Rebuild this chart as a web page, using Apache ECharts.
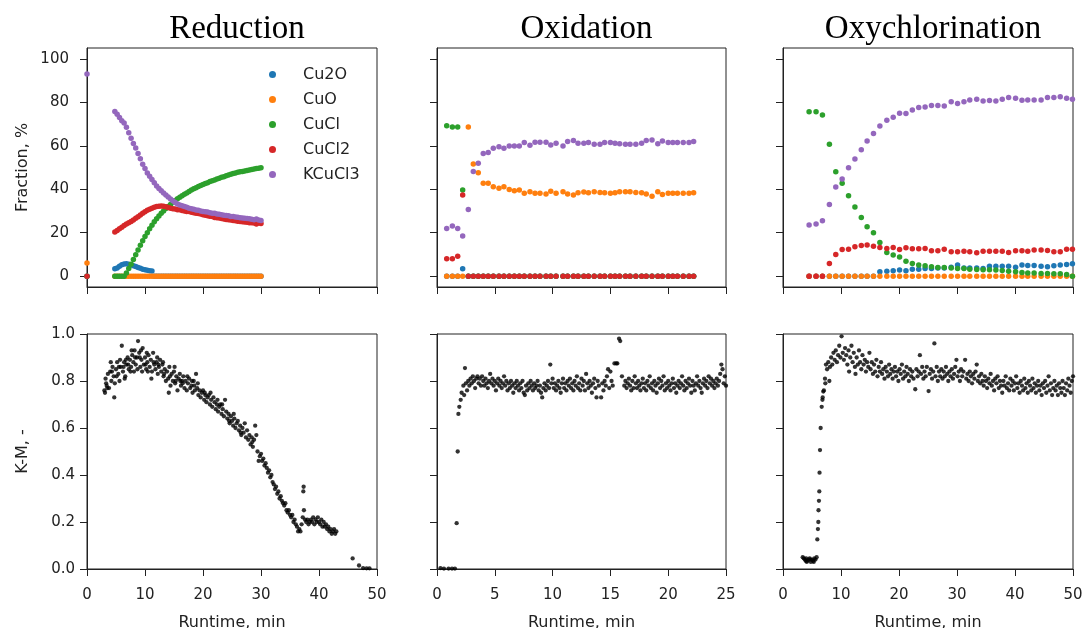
<!DOCTYPE html>
<html><head><meta charset="utf-8">
<script src="https://cdn.jsdelivr.net/npm/echarts@6/dist/echarts.min.js"></script>
<style>html,body{margin:0;padding:0;background:#fff}#c{width:1087px;height:628px}</style>
</head><body><div id="c"></div>
<script>
// ---------- Data ----------
const phases = ['Reduction', 'Oxidation', 'Oxychlorination'];
const species = ['Cu2O', 'CuO', 'CuCl', 'CuCl2', 'KCuCl3'];
const fracTicks = [0, 20, 40, 60, 80, 100];

// Reduction (runtime, min) and fractions (%)
const redT = [0, 4.8,5.2,5.6,6.0,6.4,6.8,7.2,7.6,8.0,8.4,8.8,9.2,9.6,10.0,10.4,10.8,11.2,11.6,12.0,12.4,12.8,13.2,13.6,14.0,14.4,14.8,15.2,15.6,16.0,16.4,16.8,17.2,17.6,18.0,18.4,18.8,19.2,19.6,20.0,20.4,20.8,21.2,21.6,22.0,22.4,22.8,23.2,23.6,24.0,24.4,24.8,25.2,25.6,26.0,26.4,26.8,27.2,27.6,28.0,28.4,28.8,29.2,29.6,30.0];
const redCu2O = [0, 3.4,3.8,4.5,5.2,5.6,5.7,5.5,5.2,4.8,4.4,4.0,3.6,3.2,2.9,2.7,2.5,2.4, 0,0,0,0,0,0,0,0,0,0,0,0,0,0,0,0,0,0,0,0,0,0,0,0,0,0,0,0,0,0,0,0,0,0,0,0,0,0,0,0,0,0,0,0,0,0,0,0,0];
const redCuO = [6, 0,0,0,0,0,0,0,0,0,0,0,0,0,0,0,0,0,0,0,0,0,0,0,0,0,0,0,0,0,0,0,0,0,0,0,0,0,0,0,0,0,0,0,0,0,0,0,0,0,0,0,0,0,0,0,0,0,0,0,0,0,0,0,0];
const redCuCl = [0, 0,0,0,0,0,1.5,3.5,5.5,7.6,9.8,12,14.2,16.3,18.2,20.0,21.8,23.4,25.0,26.4,27.7,28.9,30.0,31.1,32.1,33.0,33.9,34.8,35.6,36.3,37.0,37.7,38.3,39.0,39.6,40.2,40.7,41.2,41.7,42.2,42.6,43.0,43.5,43.9,44.3,44.7,45.1,45.5,45.8,46.2,46.5,46.9,47.2,47.5,47.8,48.0,48.2,48.4,48.6,48.9,49.1,49.3,49.5,49.7,49.9];
const redCuCl2 = [0, 20.3,21,21.8,22.5,23.3,24,24.6,25.2,25.8,26.6,27.3,28.1,28.9,29.6,30.3,30.8,31.3,31.7,32.0,32.2,32.3,32.2,31.9,31.6,31.2,31.0,30.9,30.6,30.5,30.2,30.0,29.8,29.7,29.4,29.2,29.0,28.8,28.6,28.3,28.0,27.8,27.6,27.4,27.0,26.9,26.7,26.5,26.3,26.1,26.0,25.8,25.6,25.5,25.3,25.2,25.0,24.9,24.8,24.6,24.6,24.4,24.0,24.4,24.2];
const redKCuCl3 = [93, 75.8,74.5,73,71.5,70.5,68.5,66,63.5,61,59,56.5,54,51.5,49.5,47.5,46,44.5,43,41.5,40.3,39.3,38.3,37.3,36.4,35.5,34.7,33.9,33.2,32.7,32.4,32.0,31.7,31.3,31.0,30.8,30.4,30.3,30.0,29.8,29.6,29.5,29.2,29.0,29.0,28.6,28.5,28.3,28.0,27.9,27.8,27.5,27.4,27.2,27.1,26.9,26.8,26.6,26.5,26.4,26.2,26.0,26.3,25.8,25.6];

// Oxidation
const oxT = [0.84,1.33,1.79,2.22,2.71,3.14,3.57,4.0,4.43,4.87,5.36,5.79,6.25,6.69,7.12,7.55,8.04,8.48,8.91,9.43,9.84,10.3,10.9,11.3,11.8,12.2,12.7,13.1,13.6,14.1,14.5,15.0,15.4,15.8,16.3,16.7,17.2,17.7,18.1,18.6,19.1,19.5,20.0,20.4,20.8,21.3,21.8,22.2];
const oxCu2O = [0,0,0,3.4, 0,0,0,0,0,0,0,0,0,0,0,0,0,0,0,0,0,0,0,0,0,0,0,0,0,0,0,0,0,0,0,0,0,0,0,0,0,0,0,0,0,0,0,0];
const oxCuO = [0,0,0,0,68.6,51.6,47.6,42.7,42.7,41.1,40.4,41.1,39.9,39.3,39.6,38.1,38.8,38.1,38.1,37.8,39.1,38.1,38.8,37.8,37.3,38.4,38.7,38.4,38.8,38.5,38.4,38.1,38.4,38.8,38.8,38.8,38.5,38.4,37.8,36.8,38.8,37.6,38.1,38.1,38.1,38.1,38.1,38.4];
const oxCuCl = [69.2,68.6,68.6,39.6, 0,0,0,0,0,0,0,0,0,0,0,0,0,0,0,0,0,0,0,0,0,0,0,0,0,0,0,0,0,0,0,0,0,0,0,0,0,0,0,0,0,0,0,0];
const oxCuCl2 = [8.0,8.0,9.1,37.3, 0,0,0,0,0,0,0,0,0,0,0,0,0,0,0,0,0,0,0,0,0,0,0,0,0,0,0,0,0,0,0,0,0,0,0,0,0,0,0,0,0,0,0,0];
const oxKCuCl3 = [21.9,23.1,21.9,18.5,30.7,48.2,51.9,56.5,56.9,58.9,59.6,58.9,59.9,59.9,59.9,61.5,60.2,61.6,61.6,61.6,60.4,61.2,59.9,62.0,62.4,61.2,61.2,61.5,60.7,60.7,61.5,61.5,61.2,60.9,60.7,60.7,60.7,61.2,62.4,62.7,60.9,62.2,61.5,61.5,61.5,61.5,61.5,62.0];

// Oxychlorination
const ocT = [4.5,5.7,6.8,8.0,9.1,10.2,11.3,12.4,13.5,14.5,15.6,16.7,17.9,19.0,20.1,21.2,22.3,23.4,24.5,25.6,26.7,27.8,29.0,30.1,31.2,32.2,33.4,34.5,35.6,36.7,37.8,38.9,40.1,41.2,42.2,43.3,44.5,45.6,46.7,47.8,48.9,49.9];
const ocCu2O = [0,0,0,0,0,0,0,0,0,0,0, 2.0,2.3,2.5,2.8,2.5,3.2,3.2,3.5,3.5,3.8,3.8,4.1,5.1,3.8,3.8,3.8,3.5,4.5,4.6,4.6,4.6,4.1,5.1,4.9,4.9,4.6,4.3,4.8,5.1,5.4,5.7];
const ocCuO = [0,0,0,0,0,0,0,0,0,0,0,0,0,0,0,0,0,0,0,0,0,0,0,0,0,0,0,0,0,0,0,0,0,0,0,0,0,0,0,0,0,0];
const ocCuCl = [75.7,75.7,74.2,60.7,48.1,42.7,37.0,31.8,27.0,22.7,20.0,15.5,10.9,9.7,8.8,6.9,5.8,5.1,4.8,4.3,4.0,4.0,3.7,3.5,3.5,3.2,3.1,2.9,2.9,2.8,2.6,2.3,2.0,1.7,1.5,1.5,1.2,1.2,1.1,1.1,0.8,0];
const ocCuCl2 = [0,0,0,5.8,10.0,12.3,12.4,13.5,14.1,14.3,13.8,13.2,12.7,13.2,12.3,13.1,12.6,12.6,12.7,11.7,11.7,12.4,11.2,11.2,11.4,11.2,10.8,11.5,11.5,11.4,11.5,10.9,11.7,11.7,11.5,12.0,12.0,11.8,11.2,11.2,12.4,12.4];
const ocKCuCl3 = [23.5,24.0,25.5,33.0,41.0,44.7,49.9,53.9,58.2,62.2,65.7,69.1,71.7,73.1,75.0,74.8,76.5,77.6,77.9,78.5,78.5,78.3,80.3,79.4,80.3,81.1,81.4,80.6,80.8,80.6,81.4,82.2,81.9,81.0,81.1,81.1,81.1,82.2,82.2,82.6,81.9,81.4];

// K-M signal [runtime, value]
const kmRed = [[3.0,.76],[3.2,.81],[3.4,.78],[3.6,.83],[3.8,.77],[3.1,.75],[3.3,.79],[3.5,.77],[4.0,.84],[4.2,.80],[4.4,.86],[4.6,.82],[4.8,.79],[4.3,.84],[4.7,.73],[4.1,.88],[5.0,.85],[5.2,.88],[5.4,.83],[5.6,.80],[5.8,.86],[5.1,.82],[5.5,.86],[5.7,.89],[6.0,.95],[6.2,.84],[6.4,.88],[6.6,.82],[6.8,.87],[6.3,.86],[6.7,.89],[6.5,.81],[7.0,.90],[7.2,.85],[7.4,.89],[7.6,.86],[7.8,.91],[7.1,.87],[7.5,.84],[7.7,.93],[8.0,.88],[8.2,.93],[8.4,.87],[8.6,.90],[8.8,.97],[8.3,.90],[8.7,.85],[8.1,.84],[9.0,.92],[9.2,.86],[9.4,.89],[9.6,.94],[9.8,.87],[9.1,.90],[9.5,.84],[9.3,.93],[10.0,.90],[10.2,.85],[10.4,.88],[10.6,.91],[10.8,.86],[10.1,.87],[10.5,.84],[10.3,.92],[11.0,.89],[11.2,.84],[11.4,.92],[11.6,.87],[11.8,.85],[11.1,.81],[11.5,.88],[12.0,.88],[12.2,.83],[12.4,.86],[12.6,.89],[12.8,.84],[12.3,.87],[12.1,.90],[13.0,.87],[13.2,.82],[13.4,.85],[13.6,.80],[13.8,.84],[13.3,.83],[13.1,.88],[14.0,.81],[14.2,.86],[14.4,.78],[14.6,.83],[14.8,.80],[14.3,.82],[14.1,.75],[15.0,.84],[15.2,.79],[15.4,.82],[15.6,.76],[15.8,.81],[15.3,.80],[15.1,.86],[16.0,.83],[16.2,.78],[16.4,.80],[16.6,.82],[16.8,.77],[16.5,.79],[16.1,.80],[17.0,.80],[17.2,.76],[17.4,.79],[17.6,.81],[17.8,.77],[17.3,.82],[18.0,.78],[18.2,.75],[18.4,.80],[18.6,.76],[18.8,.83],[18.5,.78],[18.1,.80],[19.0,.77],[19.2,.74],[19.4,.76],[19.6,.73],[19.8,.75],[19.1,.79],[20.0,.76],[20.2,.72],[20.4,.74],[20.6,.71],[20.8,.73],[20.3,.75],[21.0,.74],[21.2,.70],[21.4,.72],[21.6,.69],[21.8,.73],[21.3,.75],[22.0,.71],[22.2,.68],[22.4,.70],[22.6,.67],[22.8,.69],[22.5,.72],[23.0,.70],[23.2,.66],[23.4,.68],[23.6,.65],[23.8,.72],[23.3,.70],[24.0,.67],[24.2,.64],[24.4,.66],[24.6,.62],[24.8,.65],[24.5,.63],[25.0,.63],[25.2,.61],[25.4,.64],[25.6,.60],[25.8,.62],[25.3,.66],[26.0,.63],[26.2,.59],[26.4,.61],[26.6,.57],[26.8,.60],[26.5,.58],[27.0,.58],[27.2,.62],[27.4,.56],[27.6,.59],[27.8,.55],[28.0,.57],[28.2,.53],[28.4,.56],[28.6,.52],[28.8,.55],[28.5,.54],[29.0,.61],[29.2,.57],[29.4,.50],[29.6,.46],[29.8,.48],[30.0,.49],[30.2,.46],[30.4,.47],[30.6,.44],[30.8,.45],[31.0,.43],[31.2,.41],[31.4,.42],[31.6,.39],[31.8,.40],[32.0,.37],[32.2,.36],[32.4,.34],[32.6,.35],[32.8,.32],[33.0,.33],[33.2,.30],[33.4,.31],[33.6,.29],[33.8,.28],[34.0,.27],[34.2,.28],[34.4,.25],[34.6,.24],[34.8,.25],[35.0,.23],[35.2,.22],[35.4,.23],[35.6,.20],[35.8,.21],[36.0,.19],[36.2,.18],[36.4,.16],[36.6,.17],[36.8,.16],[37.0,.19],[37.2,.22],[37.3,.33],[37.35,.35],[37.4,.25],[37.6,.21],[37.8,.20],[38.0,.21],[38.2,.19],[38.4,.20],[38.6,.21],[38.8,.20],[39.0,.22],[39.2,.19],[39.4,.21],[39.6,.20],[39.8,.22],[40.0,.20],[40.2,.19],[40.4,.21],[40.6,.18],[40.8,.20],[41.0,.18],[41.2,.19],[41.4,.17],[41.6,.18],[41.8,.16],[42.0,.17],[42.2,.15],[42.4,.16],[42.6,.17],[42.8,.15],[43.0,.16],[45.8,.045],[46.9,.015],[47.6,.004],[48.2,.003],[48.7,.003]];
const kmOx = [[0.3,.004],[0.6,.002],[1.0,.002],[1.3,.002],[1.55,.002],[1.7,.195],[1.79,.50],[1.85,.66],[1.93,.69],[2.05,.72],[2.13,.75],[2.28,.78],[2.35,.74],[2.42,.855],[2.5,.79],[2.6,.76],[2.7,.80],[2.8,.78],[2.9,.81],[3.0,.79],[3.1,.82],[3.2,.80],[3.3,.77],[3.4,.81],[3.5,.82],[3.6,.79],[3.7,.81],[3.8,.78],[3.9,.82],[4.0,.80],[4.1,.78],[4.2,.81],[4.3,.79],[4.4,.77],[4.5,.80],[4.6,.83],[4.7,.79],[4.8,.81],[4.9,.78],[5.0,.80],[5.1,.76],[5.2,.79],[5.3,.81],[5.4,.78],[5.5,.80],[5.6,.77],[5.7,.79],[5.8,.82],[5.9,.78],[6.0,.80],[6.1,.76],[6.2,.79],[6.3,.77],[6.4,.80],[6.5,.78],[6.6,.75],[6.7,.79],[6.8,.77],[6.9,.80],[7.0,.78],[7.1,.76],[7.2,.79],[7.3,.77],[7.4,.80],[7.5,.75],[7.6,.74],[7.7,.78],[7.8,.76],[7.9,.79],[8.0,.77],[8.1,.80],[8.2,.78],[8.3,.76],[8.4,.79],[8.5,.77],[8.6,.78],[8.7,.80],[8.8,.76],[8.9,.78],[9.0,.75],[9.1,.73],[9.2,.77],[9.3,.79],[9.4,.76],[9.5,.78],[9.6,.80],[9.7,.77],[9.8,.87],[9.9,.79],[10.0,.81],[10.1,.77],[10.2,.79],[10.3,.76],[10.4,.78],[10.5,.80],[10.6,.77],[10.7,.75],[10.8,.79],[10.9,.81],[11.0,.77],[11.1,.79],[11.2,.76],[11.3,.80],[11.4,.78],[11.5,.81],[11.6,.77],[11.7,.79],[11.8,.76],[11.9,.80],[12.0,.78],[12.1,.82],[12.2,.77],[12.3,.79],[12.4,.76],[12.5,.81],[12.6,.78],[12.7,.80],[12.8,.76],[12.9,.83],[13.0,.79],[13.1,.77],[13.2,.80],[13.3,.78],[13.4,.75],[13.5,.79],[13.6,.81],[13.7,.77],[13.8,.73],[13.9,.80],[14.0,.78],[14.2,.73],[14.3,.79],[14.4,.76],[14.5,.80],[14.6,.78],[14.7,.82],[14.8,.85],[14.9,.77],[15.0,.84],[15.1,.80],[15.2,.78],[15.35,.875],[15.5,.875],[15.6,.875],[15.75,.98],[15.85,.97],[16.0,.82],[16.2,.78],[16.3,.80],[16.4,.77],[16.5,.79],[16.6,.81],[16.7,.78],[16.8,.76],[16.9,.80],[17.0,.77],[17.1,.82],[17.2,.79],[17.3,.77],[17.4,.80],[17.5,.78],[17.6,.76],[17.7,.79],[17.8,.81],[17.9,.77],[18.0,.79],[18.1,.76],[18.2,.80],[18.3,.78],[18.4,.82],[18.5,.77],[18.6,.79],[18.7,.76],[18.8,.80],[18.9,.78],[19.0,.75],[19.1,.79],[19.2,.81],[19.3,.77],[19.4,.80],[19.5,.78],[19.6,.82],[19.7,.76],[19.8,.79],[19.9,.77],[20.0,.80],[20.1,.78],[20.2,.76],[20.3,.79],[20.4,.81],[20.5,.77],[20.6,.79],[20.7,.75],[20.8,.78],[20.9,.80],[21.0,.77],[21.1,.79],[21.2,.82],[21.3,.78],[21.4,.76],[21.5,.80],[21.6,.77],[21.7,.79],[21.8,.81],[21.9,.78],[22.0,.75],[22.1,.80],[22.2,.78],[22.3,.76],[22.4,.79],[22.5,.82],[22.6,.78],[22.7,.80],[22.8,.77],[22.9,.75],[23.0,.79],[23.1,.81],[23.2,.78],[23.3,.80],[23.4,.77],[23.5,.82],[23.6,.79],[23.7,.81],[23.8,.78],[23.9,.80],[24.0,.77],[24.1,.79],[24.2,.81],[24.3,.78],[24.4,.80],[24.5,.83],[24.6,.87],[24.7,.85],[24.8,.79],[24.9,.82],[25.0,.78]];
const kmOc = [[3.4,.05],[3.6,.045],[3.8,.04],[4.0,.045],[4.2,.035],[4.4,.04],[4.6,.045],[4.8,.03],[5.0,.04],[5.2,.035],[5.4,.045],[5.6,.04],[5.8,.05],[4.1,.03],[4.7,.04],[5.3,.03],[3.9,.035],[5.92,.126],[6.02,.17],[6.09,.20],[6.12,.25],[6.2,.29],[6.26,.33],[6.3,.41],[6.38,.506],[6.49,.60],[6.67,.69],[6.8,.72],[6.84,.73],[6.95,.755],[7.05,.76],[7.24,.81],[7.3,.79],[7.41,.87],[7.6,.85],[7.8,.88],[7.99,.80],[8.1,.86],[8.3,.90],[8.5,.87],[8.7,.92],[8.9,.89],[9.1,.93],[9.3,.88],[9.5,.91],[9.7,.95],[9.9,.90],[10.1,.99],[10.3,.92],[10.5,.89],[10.7,.94],[10.9,.91],[11.1,.87],[11.3,.93],[11.4,.84],[11.6,.90],[11.8,.95],[12.0,.88],[12.2,.92],[12.4,.86],[12.5,.83],[12.7,.90],[12.9,.87],[13.1,.93],[13.3,.88],[13.5,.85],[13.7,.91],[13.9,.87],[14.1,.89],[14.3,.84],[14.5,.88],[14.7,.86],[14.9,.92],[15.1,.85],[15.3,.88],[15.5,.83],[15.7,.87],[15.9,.84],[16.1,.89],[16.3,.82],[16.5,.86],[16.7,.84],[16.9,.88],[17.1,.83],[17.3,.85],[17.5,.81],[17.7,.86],[17.9,.84],[18.1,.82],[18.3,.87],[18.5,.83],[18.7,.85],[18.9,.81],[19.1,.84],[19.3,.86],[19.5,.82],[19.7,.84],[19.9,.80],[20.1,.85],[20.3,.83],[20.5,.87],[20.7,.81],[20.9,.84],[21.1,.82],[21.3,.86],[21.5,.83],[21.7,.80],[21.9,.85],[22.1,.82],[22.3,.84],[22.5,.81],[22.8,.765],[23.0,.85],[23.2,.82],[23.4,.84],[23.6,.91],[23.8,.83],[24.0,.86],[24.2,.81],[24.4,.84],[24.6,.82],[24.8,.86],[25.1,.757],[25.3,.83],[25.5,.85],[25.7,.81],[25.9,.84],[26.1,.96],[26.3,.82],[26.5,.86],[26.7,.80],[26.9,.84],[27.1,.82],[27.3,.85],[27.5,.81],[27.7,.84],[27.9,.82],[28.1,.86],[28.3,.83],[28.5,.80],[28.7,.84],[28.9,.82],[29.1,.85],[29.3,.81],[29.5,.83],[29.7,.86],[29.9,.89],[30.1,.82],[30.3,.84],[30.5,.80],[30.7,.85],[30.9,.82],[31.1,.84],[31.4,.89],[31.6,.81],[31.8,.83],[32.0,.80],[32.2,.84],[32.4,.82],[32.6,.79],[32.8,.83],[33.0,.81],[33.2,.84],[33.4,.87],[33.6,.80],[33.8,.82],[34.0,.79],[34.2,.83],[34.4,.80],[34.6,.78],[34.8,.82],[35.0,.80],[35.2,.77],[35.4,.81],[35.6,.79],[35.8,.83],[36.0,.78],[36.2,.80],[36.4,.76],[36.6,.81],[36.8,.79],[37.0,.82],[37.2,.77],[37.4,.80],[37.6,.78],[37.8,.75],[38.0,.80],[38.2,.78],[38.4,.82],[38.6,.77],[38.8,.79],[39.0,.76],[39.2,.81],[39.4,.78],[39.6,.80],[39.8,.76],[40.0,.79],[40.2,.82],[40.4,.77],[40.6,.79],[40.8,.75],[41.0,.80],[41.2,.78],[41.4,.76],[41.6,.81],[41.8,.77],[42.0,.79],[42.2,.75],[42.4,.80],[42.6,.78],[42.8,.76],[43.0,.81],[43.2,.77],[43.4,.79],[43.6,.75],[43.8,.78],[44.0,.80],[44.2,.76],[44.4,.78],[44.6,.74],[44.8,.79],[45.0,.77],[45.2,.80],[45.4,.75],[45.6,.78],[45.8,.82],[46.0,.76],[46.2,.79],[46.4,.74],[46.6,.77],[46.8,.80],[47.0,.76],[47.2,.78],[47.4,.74],[47.6,.79],[47.8,.77],[48.0,.75],[48.2,.80],[48.4,.77],[48.6,.74],[48.8,.79],[49.0,.76],[49.2,.81],[49.4,.78],[49.6,.75],[49.8,.80],[50.0,.82]];

// ---------- Chart ----------
const colors = ['#1f77b4', '#ff7f0e', '#2ca02c', '#d62728', '#9467bd'];
const INK = '#222';
const FONT = 'DejaVu Sans';

const grids = [
  {left: 87, top: 48, width: 290, height: 239},
  {left: 437, top: 48, width: 289, height: 239},
  {left: 783, top: 48, width: 290, height: 239},
  {left: 87, top: 334, width: 290, height: 235},
  {left: 437, top: 334, width: 289, height: 235},
  {left: 783, top: 334, width: 290, height: 235}
].map(g => Object.assign({show: true, borderColor: INK, borderWidth: 1, backgroundColor: 'transparent', containLabel: false, outerBoundsMode: 'none'}, g));

function axisBase(extra) {
  return Object.assign({
    type: 'value',
    splitLine: {show: false},
    axisLine: {show: true, onZero: false, lineStyle: {color: INK, width: 1}},
    axisTick: {show: true, inside: false, length: 7, lineStyle: {color: INK, width: 1}},
    axisLabel: {show: true, color: INK, fontFamily: FONT, fontSize: 15, margin: 11},
    nameTextStyle: {color: INK, fontFamily: FONT, fontSize: 16}
  }, extra);
}

const xRanges = [[0, 50, 10], [0, 25, 5], [0, 50, 10]];
const xAxes = [];
for (let r = 0; r < 2; r++) {
  for (let c = 0; c < 3; c++) {
    const [mn, mx, iv] = xRanges[c];
    const ax = axisBase({gridIndex: r * 3 + c, min: mn, max: mx, interval: iv});
    if (r === 0) {
      ax.axisLabel = Object.assign({}, ax.axisLabel, {show: false});
    } else {
      ax.axisLabel = Object.assign({}, ax.axisLabel, {margin: 19});
      ax.name = 'Runtime, min';
      ax.nameLocation = 'middle';
      ax.nameGap = 46;
    }
    xAxes.push(ax);
  }
}

const yAxes = [];
for (let c = 0; c < 3; c++) {
  const ax = axisBase({gridIndex: c, min: -5, max: 105});
  ax.axisLabel = Object.assign({}, ax.axisLabel, {customValues: fracTicks, show: c === 0, margin: 18});
  ax.axisTick = Object.assign({}, ax.axisTick, {customValues: fracTicks});
  if (c === 0) { ax.name = 'Fraction, %'; ax.nameLocation = 'middle'; ax.nameGap = 56; }
  yAxes.push(ax);
}
for (let c = 0; c < 3; c++) {
  const ax = axisBase({gridIndex: 3 + c, min: 0, max: 1, interval: 0.2});
  ax.axisLabel = Object.assign({}, ax.axisLabel, {show: c === 0, margin: 12, formatter: v => v.toFixed(1)});
  if (c === 0) { ax.name = 'K-M, -'; ax.nameLocation = 'middle'; ax.nameGap = 56; }
  yAxes.push(ax);
}

const frac = [
  [redT, [redCu2O, redCuO, redCuCl, redCuCl2, redKCuCl3]],
  [oxT, [oxCu2O, oxCuO, oxCuCl, oxCuCl2, oxKCuCl3]],
  [ocT, [ocCu2O, ocCuO, ocCuCl, ocCuCl2, ocKCuCl3]]
];
const series = [];
frac.forEach(([t, sets], c) => {
  sets.forEach((vals, k) => {
    series.push({
      type: 'scatter', name: species[k], xAxisIndex: c, yAxisIndex: c,
      symbol: 'circle', symbolSize: 5.5, clip: false,
      itemStyle: {color: colors[k], opacity: 1},
      emphasis: {disabled: true},
      data: t.map((x, i) => [x, vals[i]])
    });
  });
});
[kmRed, kmOx, kmOc].forEach((d, c) => {
  series.push({
    type: 'scatter', name: 'K-M ' + phases[c], xAxisIndex: 3 + c, yAxisIndex: 3 + c,
    symbol: 'circle', symbolSize: 4.3, clip: false,
    itemStyle: {color: '#000'}, emphasis: {disabled: true},
    data: d
  });
});

const titleCenters = [232, 581.5, 928];
const titles = phases.map((p, i) => ({
  text: p, left: titleCenters[i], top: 8, textAlign: 'center',
  textStyle: {fontFamily: 'Liberation Serif', fontSize: 33, fontWeight: 'normal', color: '#000'}
}));

const chart = echarts.init(document.getElementById('c'), null, {renderer: 'canvas'});
chart.setOption({
  animation: false,
  backgroundColor: '#fff',
  title: titles,
  legend: {
    data: species, orient: 'vertical', left: 264, top: 61,
    icon: 'circle', itemWidth: 7, itemHeight: 7, itemGap: 8,
    textStyle: {color: INK, fontFamily: FONT, fontSize: 16, lineHeight: 17, padding: [0, 0, 0, 22]},
    selectedMode: false
  },
  grid: grids,
  xAxis: xAxes,
  yAxis: yAxes,
  series: series
});
</script></body></html>
